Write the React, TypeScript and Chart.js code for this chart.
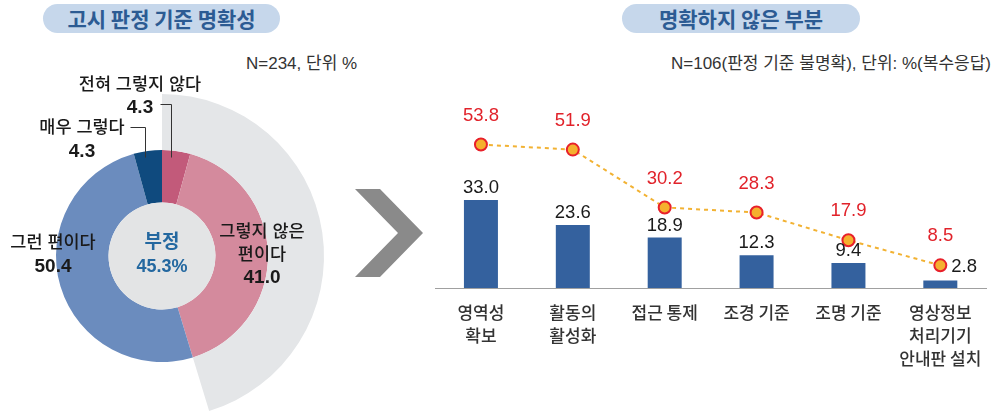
import React, { useEffect, useRef } from "react";
import { Chart, registerables } from "chart.js";

Chart.register(...registerables);

// ---- data ----
const pieLabels: string[][] = [["전혀 그렇지 않다"], ["그렇지 않은", "편이다"], ["그런 편이다"], ["매우 그렇다"]];
const pieValues = [4.3, 41.0, 50.4, 4.3];
const negativeLabel = "부정";
const negativeShare = 45.3;

const categories: string[][] = [
  ["영역성", "확보"],
  ["활동의", "활성화"],
  ["접근 통제"],
  ["조경 기준"],
  ["조명 기준"],
  ["영상정보", "처리기기", "안내판 설치"],
];
const barValues = [33.0, 23.6, 18.9, 12.3, 9.4, 2.8];
const lineValues = [53.8, 51.9, 30.2, 28.3, 17.9, 8.5];

const leftTitle = "고시 판정 기준 명확성";
const rightTitle = "명확하지 않은 부분";
const leftNote = "N=234, 단위 %";
const rightNote = "N=106(판정 기준 불명확), 단위: %(복수응답)";

// ---- styles ----
const MIX = '"Liberation Sans", "Noto Sans CJK KR", sans-serif';
const KR = '"Noto Sans CJK KR", sans-serif';
const pieColors = ["#c25a7a", "#d48a9d", "#6b8cbe", "#0f4a7e"];
const arcGray = "#e4e6e8";
const diskGray = "#e3e4e5";

// label layout offsets relative to doughnut centre (layout only)
const pieLabelLayout = [
  { lx: -22, ly: -171, vy: -148, leader: [[-2, -152], [9, -152], [9, -99]] },
  { lx: 100, ly: -24, vy: 22, leader: null },
  { lx: -109, ly: -13, vy: 11, leader: null },
  { lx: -80, ly: -128, vy: -104, leader: [[-32, -129], [-17, -129], [-17, -99]] },
];

function DoughnutPanel() {
  const ref = useRef<HTMLCanvasElement>(null);
  useEffect(() => {
    const labelPlugin = {
      id: "pieLabels",
      afterDatasetsDraw(chart: any) {
        const ctx = chart.ctx;
        const meta = chart.getDatasetMeta(1);
        const a0 = meta.data[0];
        const cx = a0.x, cy = a0.y, r = a0.innerRadius;
        ctx.save();
        ctx.beginPath();
        ctx.arc(cx, cy, r, 0, Math.PI * 2);
        ctx.fillStyle = diskGray;
        ctx.fill();
        ctx.fillStyle = "#2468a0";
        ctx.textAlign = "center";
        ctx.textBaseline = "middle";
        ctx.font = `bold 19px ${MIX}`;
        ctx.fillText(negativeLabel, cx, cy - 13);
        ctx.font = `bold 18px ${MIX}`;
        ctx.fillText(negativeShare.toFixed(1) + "%", cx, cy + 11);

        pieValues.forEach((v, i) => {
          const L = pieLabelLayout[i];
          ctx.fillStyle = "#1a1a1a";
          ctx.font = `500 17.5px ${MIX}`;
          pieLabels[i].forEach((t, k) => {
            ctx.fillText(t, cx + L.lx, cy + L.ly + k * 23);
          });
          ctx.font = `bold 19px ${MIX}`;
          ctx.fillText(v.toFixed(1), cx + L.lx, cy + L.vy);
          if (L.leader) {
            ctx.beginPath();
            ctx.strokeStyle = "#333";
            ctx.lineWidth = 1;
            L.leader.forEach((p, k) => {
              const px = cx + p[0] + 0.5, py = cy + p[1] + 0.5;
              if (k === 0) ctx.moveTo(px, py);
              else ctx.lineTo(px, py);
            });
            ctx.stroke();
          }
        });
        ctx.restore();
      },
    };
    const chart = new Chart(ref.current!, {
      type: "doughnut",
      data: {
        labels: pieLabels.map((l) => l.join(" ")),
        datasets: [
          {
            data: [negativeShare, 100 - negativeShare],
            backgroundColor: [arcGray, "rgba(0,0,0,0)"],
            borderWidth: 0,
            weight: 56,
          } as any,
          {
            data: pieValues,
            backgroundColor: pieColors,
            borderWidth: 0,
            weight: 52.5,
          } as any,
        ],
      },
      options: {
        responsive: false,
        animation: false,
        events: [],
        cutout: "33%",
        layout: { padding: { top: 54, left: 0, right: 36, bottom: 2 } },
        plugins: { legend: { display: false }, tooltip: { enabled: false } },
      } as any,
      plugins: [labelPlugin],
    });
    return () => chart.destroy();
  }, []);
  return (
    <canvas
      ref={ref}
      width={360}
      height={380}
      style={{ position: "absolute", left: 0, top: 40, width: 360, height: 380, display: "block" }}
    />
  );
}

function ComboPanel() {
  const ref = useRef<HTMLCanvasElement>(null);
  useEffect(() => {
    const valuePlugin = {
      id: "values",
      afterDatasetsDraw(chart: any) {
        const ctx = chart.ctx;
        const bars = chart.getDatasetMeta(1).data;
        const pts = chart.getDatasetMeta(0).data;
        ctx.save();
        ctx.textBaseline = "middle";
        ctx.font = `18.5px ${MIX}`;
        bars.forEach((b: any, i: number) => {
          ctx.fillStyle = "#1a1a1a";
          const p = pts[i];
          if (b.y - p.y < 18) {
            ctx.textAlign = "left";
            ctx.fillText(barValues[i].toFixed(1), p.x + 11, p.y + 2);
          } else {
            ctx.textAlign = "center";
            ctx.fillText(barValues[i].toFixed(1), b.x, b.y - 12);
          }
        });
        ctx.fillStyle = "#e1222a";
        ctx.textAlign = "center";
        pts.forEach((p: any, i: number) => {
          ctx.fillText(lineValues[i].toFixed(1), p.x, p.y - 29);
        });
        ctx.restore();
      },
    };
    const chart = new Chart(ref.current!, {
      type: "bar",
      data: {
        labels: categories,
        datasets: [
          {
            type: "line",
            data: lineValues,
            borderColor: "#f2b233",
            borderWidth: 2,
            borderDash: [4, 4],
            pointRadius: 6,
            pointBackgroundColor: "#f5b02e",
            pointBorderColor: "#e8202a",
            pointBorderWidth: 2,
            tension: 0,
            order: 0,
          } as any,
          {
            type: "bar",
            data: barValues,
            backgroundColor: "#34619e",
            barPercentage: 0.37,
            categoryPercentage: 1,
            order: 1,
          } as any,
        ],
      },
      options: {
        responsive: false,
        animation: false,
        events: [],
        layout: { padding: { top: 128, left: 15, right: 7, bottom: 0 } },
        plugins: { legend: { display: false }, tooltip: { enabled: false } },
        scales: {
          x: {
            grid: { display: false, drawTicks: false },
            border: { display: true, color: "#a0a0a0", width: 1 },
            ticks: {
              color: "#333",
              padding: 13,
              font: { family: KR, size: 17, weight: 500, lineHeight: 1.35 },
              maxRotation: 0,
              autoSkip: false,
            },
            afterFit: (scale: any) => {
              scale.height = 123;
            },
          },
          y: { display: false, min: 0, max: 60 },
        },
      } as any,
      plugins: [valuePlugin],
    });
    return () => chart.destroy();
  }, []);
  return (
    <canvas
      ref={ref}
      width={575}
      height={411}
      style={{ position: "absolute", left: 420, top: 0, width: 575, height: 411, display: "block" }}
    />
  );
}

const pill = (left: number, width: number): React.CSSProperties => ({
  position: "absolute",
  left,
  top: 4,
  width,
  height: 29,
  borderRadius: 15,
  background: "#c6d7eb",
  color: "#2c5b93",
  fontFamily: KR,
  fontWeight: 700,
  fontSize: 21,
  lineHeight: "29px",
  textAlign: "center",
  whiteSpace: "nowrap",
});

const note: React.CSSProperties = {
  position: "absolute",
  top: 52,
  fontFamily: MIX,
  fontSize: 17,
  lineHeight: "23px",
  color: "#333",
  whiteSpace: "nowrap",
};

export default function App() {
  return (
    <div
      style={{
        position: "absolute",
        left: 0,
        top: 0,
        width: 995,
        height: 411,
        overflow: "hidden",
        background: "#fff",
      }}
    >
      <div style={pill(43, 237)}>{leftTitle}</div>
      <div style={pill(622, 238)}>{rightTitle}</div>
      <div style={{ ...note, left: 246 }}>{leftNote}</div>
      <div style={{ ...note, right: 4 }}>{rightNote}</div>
      <DoughnutPanel />
      <svg
        width={995}
        height={411}
        style={{ position: "absolute", left: 0, top: 0, pointerEvents: "none" }}
      >
        <polygon points="355,189 380,189 423,233 380,277 355,277 398,233" fill="#8a8a8a" />
      </svg>
      <ComboPanel />
    </div>
  );
}
